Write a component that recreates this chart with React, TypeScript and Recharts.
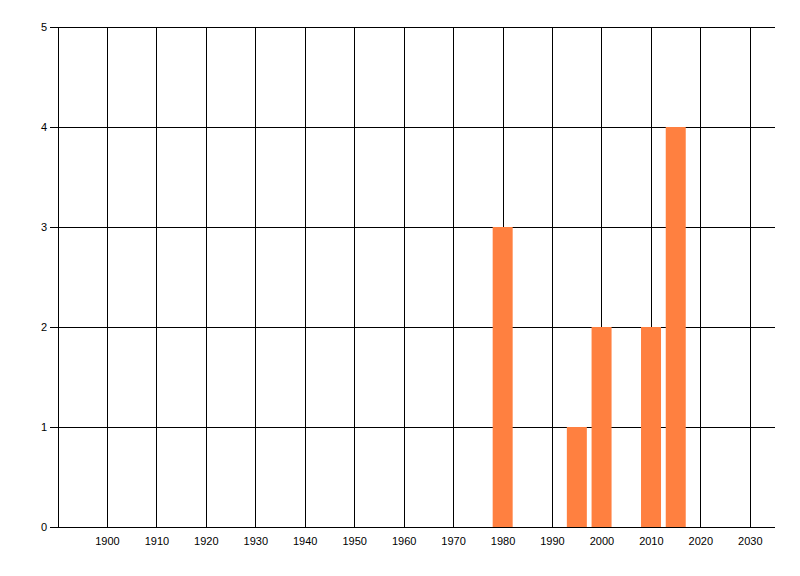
import { BarChart, Bar, CartesianGrid, XAxis, YAxis } from "recharts";

const YEARS = [1980, 1995, 2000, 2010, 2015];
const COUNTS = [3, 1, 2, 2, 4];
const X_TICKS = [1900, 1910, 1920, 1930, 1940, 1950, 1960, 1970, 1980, 1990, 2000, 2010, 2020, 2030];
const Y_TICKS = [0, 1, 2, 3, 4, 5];

const data = YEARS.map((year, i) => ({ year, count: COUNTS[i] }));

const tickStyle = { fontSize: 11, fill: "#000", fontFamily: "'Liberation Sans', Arial, sans-serif" };

// vertical grid line; the reference has no border on the right edge of the plot
const gridLine = (p: any) => {
  if (typeof p.x === "number" && typeof p.width === "number" && Math.abs(p.x1 - (p.x + p.width)) < 1) {
    return <g key={`v-${p.index}`} />;
  }
  return (
    <line
      key={`v-${p.index}`}
      x1={p.x1}
      x2={p.x2}
      y1={p.y1}
      y2={p.y2}
      stroke="#000"
      strokeWidth={1}
      shapeRendering="crispEdges"
    />
  );
};

export default function App() {
  return (
    <div style={{ position: "absolute", left: 0, top: 0, background: "#fff" }}>
      <style>{`svg line { shape-rendering: crispEdges; }`}</style>
      <BarChart
        width={800}
        height={576}
        data={data}
        margin={{ top: 27, right: 25, bottom: 0, left: 0 }}
      >
        <CartesianGrid
          stroke="#000"
          strokeWidth={1}
          horizontalValues={Y_TICKS}
          verticalValues={X_TICKS}
          vertical={gridLine}
        />
        <XAxis
          dataKey="year"
          type="number"
          domain={[1890, 2035]}
          ticks={X_TICKS}
          allowDataOverflow
          height={49}
          tickLine={false}
          tickSize={8}
          tickMargin={2}
          axisLine={{ stroke: "#000" }}
          tick={tickStyle}
        />
        <YAxis
          type="number"
          domain={[0, 5]}
          ticks={Y_TICKS}
          width={58}
          tickSize={8}
          tickMargin={3}
          tickLine={{ stroke: "#000" }}
          axisLine={{ stroke: "#000" }}
          tick={tickStyle}
        />
        <Bar dataKey="count" fill="#FF8040" barSize={20} isAnimationActive={false} />
      </BarChart>
    </div>
  );
}
